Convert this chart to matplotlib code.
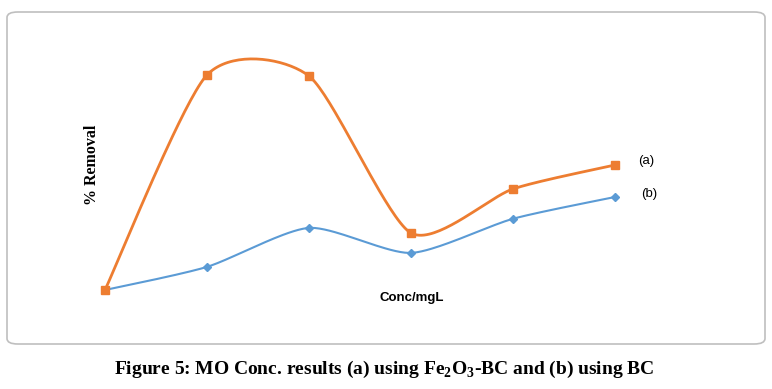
import numpy as np
import matplotlib.pyplot as plt
from matplotlib.patches import FancyBboxPatch

# concentration steps (equally spaced in the picture)
conc = [10, 20, 30, 40, 50, 60]
# % removal
removal_a = [5.0, 85.0, 84.6, 26.2, 42.6, 51.5]   # Fe2O3-BC
removal_b = [5.0, 13.6, 28.1, 18.8, 31.5, 39.6]   # BC
labels = ['(a)', '(b)']

ORANGE = '#ED7D31'
BLUE = '#5B9BD5'

W, H = 772, 389

plt.rcParams['mathtext.fontset'] = 'custom'
plt.rcParams['mathtext.rm'] = 'Liberation Serif:bold'
plt.rcParams['mathtext.bf'] = 'Liberation Serif:bold'


def smooth(xs, ys, n=40, k=8.5):
    # smoothed line: cubic bezier with catmull-rom style control points
    p = np.column_stack([xs, ys]).astype(float)
    out = [p[0]]
    for i in range(len(p) - 1):
        p0 = p[i - 1] if i > 0 else p[i]
        p3 = p[i + 2] if i + 2 < len(p) else p[i + 1]
        c1 = p[i] + (p[i + 1] - p0) / k
        c2 = p[i + 1] - (p3 - p[i]) / k
        t = np.linspace(0, 1, n)[1:, None]
        seg = ((1 - t) ** 3) * p[i] + 3 * ((1 - t) ** 2) * t * c1 \
            + 3 * (1 - t) * t ** 2 * c2 + t ** 3 * p[i + 1]
        out.extend(seg)
    out = np.array(out)
    return out[:, 0], out[:, 1]


fig = plt.figure(figsize=(W / 100, H / 100), dpi=100)
ax = fig.add_axes([0, 0, 1, 1])
ax.set_xlim(10 - 105 / 10.2, 10 + (W - 105) / 10.2)
ax.set_ylim(5 - (H - 290) * 0.372, 5 + 290 * 0.372)
ax.axis('off')

# chart frame
frame = FancyBboxPatch((7 / W, 1 - 344 / H), 758 / W, 332 / H,
                       boxstyle='round,pad=0,rounding_size=0.014',
                       transform=fig.transFigure, fill=False,
                       edgecolor='#BFBFBF', linewidth=1.2)
fig.patches.append(frame)

sx, sy = smooth(conc, removal_b)
ax.plot(sx, sy, color=BLUE, lw=1.5)
ax.plot(conc, removal_b, ls='none', marker='D', ms=4, color=BLUE)

sx, sy = smooth(conc, removal_a)
ax.plot(sx, sy, color=ORANGE, lw=2)
ax.plot(conc, removal_a, ls='none', marker='s', ms=6, color=ORANGE)

fig.text(638 / W, 1 - 161 / H, labels[0], fontsize=9.5,
         family='Liberation Sans', va='center')
fig.text(641 / W, 1 - 194 / H, labels[1], fontsize=9.5,
         family='Liberation Sans', va='center')

fig.text(92 / W, 1 - 165 / H, '% Removal', rotation=90, fontsize=11.5,
         family='Liberation Serif', weight='bold', ha='center', va='center')
fig.text(412 / W, 1 - 298 / H, 'Conc/mgL', fontsize=9.5,
         family='Liberation Sans', weight='bold', ha='center', va='center')

fig.text(384 / W, 1 - 369 / H,
         r'Figure 5: MO Conc. results (a) using Fe$_\mathbf{2}$O$_\mathbf{3}$-BC and (b) using BC',
         fontsize=14, family='Liberation Serif', weight='bold',
         ha='center', va='center')

fig.savefig('out.png', dpi=100)
